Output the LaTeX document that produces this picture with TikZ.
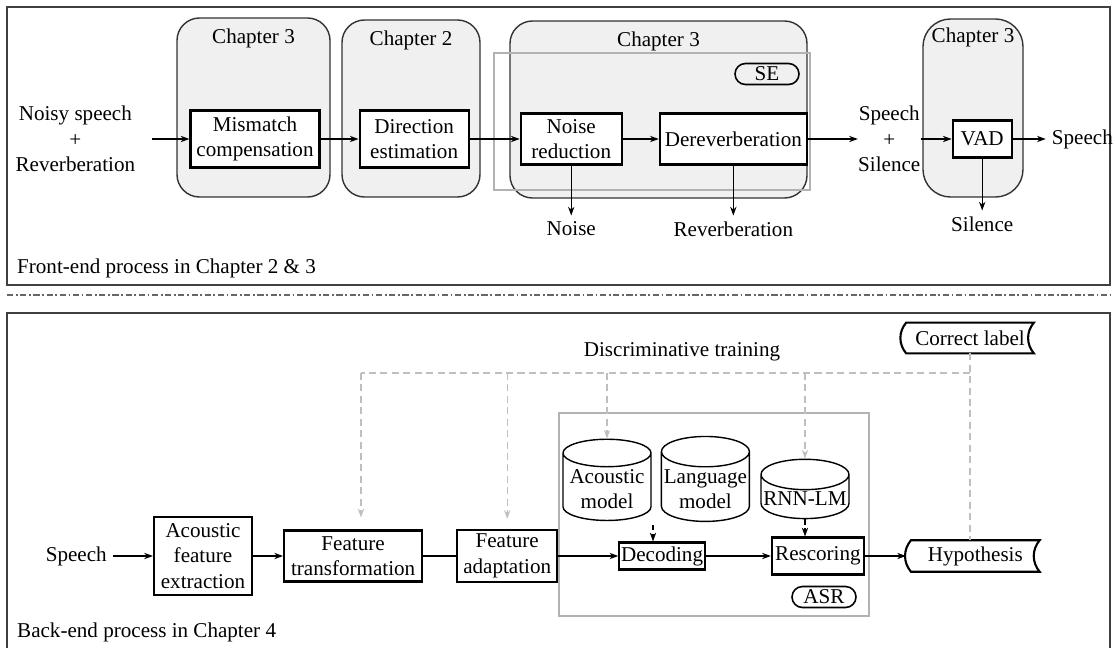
\documentclass[tikz,border=0pt]{standalone}
\usepackage{fontspec}
\setmainfont{Liberation Serif}
\usetikzlibrary{positioning,shapes.geometric,shapes.misc,arrows.meta,calc}

\begin{document}
\begin{tikzpicture}[font=\fontsize{12}{14.5}\selectfont,
	>={Stealth[length=5pt,width=3.6pt]},
	block/.style={draw, line width=1.2pt, fill=white, align=center, inner sep=1pt},
	chap/.style={draw=black!80, line width=0.8pt, fill=black!6, rounded corners=0.45cm},
	group/.style={draw=black!30, line width=1.2pt},
	tag/.style={draw, line width=0.9pt, rounded rectangle, minimum width=1.28cm, minimum height=0.42cm, inner sep=0pt},
	db/.style={draw, line width=0.8pt, cylinder, shape border rotate=90, aspect=0.35, fill=white, align=center, inner sep=1pt, minimum width=1.76cm},
	flow/.style={->, line width=0.7pt},
	fb/.style={draw=black!25, line width=0.8pt, dash pattern=on 4pt off 2.5pt},
	frame/.style={draw=black!75, line width=0.9pt},
	sep/.style={draw=black!60, line width=0.7pt, dash pattern=on 3.5pt off 1.5pt on 1pt off 1.5pt}]
	\useasboundingbox (0,0) rectangle (22.3,-12.96);

	\draw[frame] (0.14,-0.14) rectangle (22.2,-5.70);
	\draw[sep] (0.14,-5.90) -- (22.2,-5.90);
	\draw[frame] (0.14,-12.96) |- (22.2,-6.26) -- (22.2,-12.96);

	\node[chap, minimum width=3.06cm, minimum height=3.58cm, label={[anchor=north, yshift=-0.1cm]north:Chapter 3}] (ch1) at (5.07,-2.15) {};
	\node[chap, minimum width=2.76cm, minimum height=3.54cm, label={[anchor=north, yshift=-0.1cm]north:Chapter 2}] (ch2) at (8.22,-2.17) {};
	\node[chap, minimum width=5.94cm, minimum height=3.54cm, label={[anchor=north, yshift=-0.1cm]north:Chapter 3}] (ch3) at (13.17,-2.19) {};
	\node[chap, rounded corners=0.55cm, minimum width=2.0cm, minimum height=3.56cm, label={[anchor=north, yshift=-0.06cm]north:Chapter 3}] (ch4) at (19.46,-2.16) {};
	\draw[group] (9.88,-1.06) rectangle (16.2,-3.80);
	\node[tag] (se) at (15.34,-1.48) {SE};

	\node[block, minimum width=2.58cm, minimum height=1.14cm] (mm) at (5.10,-2.78) {Mismatch\\compensation};
	\node[block, minimum width=2.18cm, minimum height=1.14cm, right=0.76cm of mm] (de) {Direction\\estimation};
	\node[block, minimum width=2.02cm, minimum height=1.02cm, right=1.0cm of de] (nr) {Noise\\reduction};
	\node[block, minimum width=2.94cm, minimum height=1.02cm, right=0.72cm of nr] (dr) {Dereverberation};
	\node[align=center, inner sep=0pt, right=1.0cm of dr] (mix) {Speech\\+\\Silence};
	\node[block, minimum width=1.18cm, minimum height=0.74cm, right=0.62cm of mix] (vad) {VAD};
	\node[right=0.66cm of vad] (clean) {Speech};
	\node[align=center, inner sep=0pt, left=1.08cm of mm] (in) {Noisy speech\\+\\Reverberation};
	\node[below=1.0cm of nr] (noise) {Noise};
	\node[below=1.0cm of dr] (rev) {Reverberation};
	\node[below=1.04cm of vad] (sil) {Silence};
	\node[anchor=west] (fe) at (0.22,-5.36) {Front-end process in Chapter 2 \& 3};

	\draw[flow, shorten <=0.34cm] (in) -- (mm);
	\draw[flow] (mm) -- (de);
	\draw[flow] (de) -- (nr);
	\draw[flow] (nr) -- (dr);
	\draw[flow] (dr) -- (mix);
	\draw[flow] (mix) -- (vad);
	\draw[flow] (vad) -- (clean);
	\draw[flow] (nr) -- (noise);
	\draw[flow] (dr) -- (rev);
	\draw[flow] (vad) -- (sil);

	\draw[group] (11.18,-8.26) rectangle (17.38,-12.32);
	\node[tag] (asr) at (16.48,-11.94) {ASR};

	\node[block, minimum width=1.96cm, minimum height=1.56cm] (afe) at (4.06,-11.12) {Acoustic\\feature\\extraction};
	\node[left=0.8cm of afe] (spin) {Speech};
	\node[block, minimum width=2.76cm, minimum height=1.02cm, right=0.6cm of afe] (ft) {Feature\\transformation};
	\node[block, minimum width=2.0cm, minimum height=1.04cm, right=0.66cm of ft] (fa) {Feature\\adaptation};
	\node[block, minimum width=1.7cm, minimum height=0.54cm, right=1.2cm of fa] (dec) {Decoding};
	\node[block, minimum width=1.84cm, minimum height=0.74cm, right=1.3cm of dec] (res) {Rescoring};
	\node[minimum width=2.56cm, minimum height=0.56cm, right=0.92cm of res] (hyp) {Hypothesis};
	\draw[line width=1.2pt] (hyp.north west) to[bend right=40] (hyp.south west) -- (hyp.south east) to[bend left=40] (hyp.north east) -- cycle;
	\node[db, minimum height=1.33cm] (am) at (12.14,-9.78) {Acoustic\\model};
	\node[db, minimum height=1.33cm, right=0.18cm of am] (lm) {Language\\model};
	\node[db, minimum height=0.85cm] (rnn) at (16.10,-9.98) {RNN-LM};
	\node[minimum width=2.54cm, minimum height=0.6cm] (cl) at (19.40,-6.76) {Correct label};
	\draw[line width=1.2pt] (cl.north west) to[bend right=40] (cl.south west) -- (cl.south east) to[bend left=40] (cl.north east) -- cycle;
	\node (dt) at (13.64,-7.04) {Discriminative training};
	\node[anchor=west] (be) at (0.22,-12.64) {Back-end process in Chapter 4};

	\draw[flow] (spin) -- (afe);
	\draw[flow] (afe) -- (ft);
	\draw[line width=0.7pt] (ft) -- (fa);
	\draw[flow] (fa) -- (dec);
	\draw[flow] (dec) -- (res);
	\draw[flow, shorten >=0.1cm] (res) -- (hyp);
	\coordinate (din) at (13.06,-10.5);
	\draw[flow, dash pattern=on 3pt off 2pt] (din) -- (din |- dec.north);
	\draw[flow, dash pattern=on 3pt off 2pt] (rnn.south) -- (rnn.south |- res.north);

	\coordinate (fbc) at (7.22,-7.46);
	\draw[fb] (cl.south) -- (cl.south |- hyp.north);
	\draw[fb] (cl.south |- fbc) -- (fbc);
	\draw[fb, ->, shorten >=0.24cm] (fbc) -- (fbc |- ft.north);
	\draw[fb, ->, shorten >=0.2cm] (fa.north |- fbc) -- (fa.north);
	\draw[fb, ->] (am.north |- fbc) -- (am.north);
	\draw[fb, ->] (rnn.north |- fbc) -- (rnn.north);
\end{tikzpicture}
\end{document}
